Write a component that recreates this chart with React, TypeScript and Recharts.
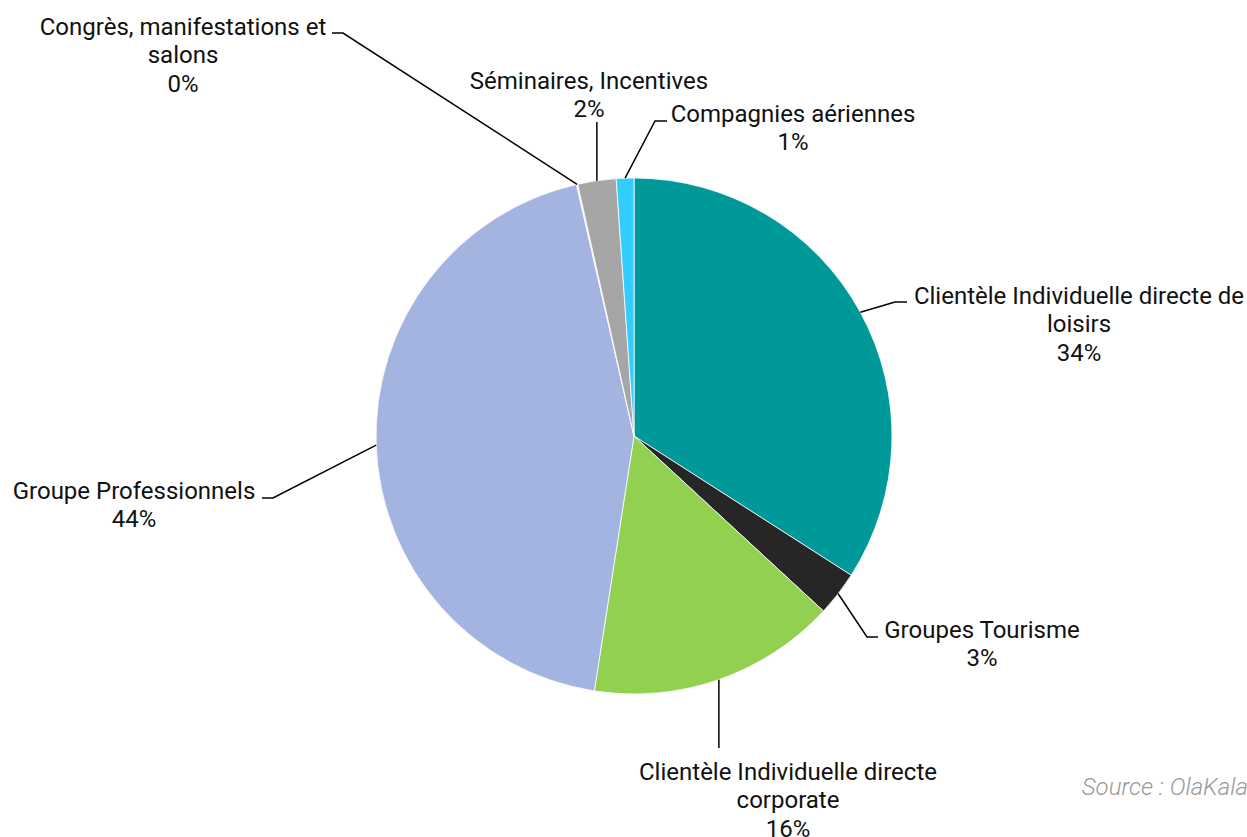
import React from 'react';
import { PieChart, Pie, Cell } from 'recharts';

// Répartition de la clientèle (parts en %)
const segments = [
  'Clientèle Individuelle directe de loisirs',
  'Groupes Tourisme',
  'Clientèle Individuelle directe corporate',
  'Groupe Professionnels',
  'Congrès, manifestations et salons',
  'Séminaires, Incentives',
  'Compagnies aériennes',
];
const shares = [34.1, 2.8, 15.6, 44.0, 0.08, 2.4, 1.1];
const colors = ['#009999', '#262626', '#92D050', '#A4B4E0', '#E8E8E8', '#A6A6A6', '#33CCFF'];

// lignes des étiquettes (retour à la ligne comme dans l'original)
const labelText = [
  ['Clientèle Individuelle directe de', 'loisirs'],
  ['Groupes Tourisme'],
  ['Clientèle Individuelle directe', 'corporate'],
  ['Groupe Professionnels'],
  ['Congrès, manifestations et', 'salons'],
  ['Séminaires, Incentives'],
  ['Compagnies aériennes'],
];

// placement des étiquettes, relatif au centre du camembert
const labelLayout = [
  { elbow: [261, -134], end: [273, -134], tx: 445, ty: -141, vertical: false },
  { elbow: [233, 201], end: [244, 201], tx: 348, ty: 193, vertical: false },
  { elbow: [84, 312], end: [84, 312], tx: 154, ty: 335, vertical: true },
  { elbow: [-361, 62], end: [-372, 62], tx: -500, ty: 54, vertical: false },
  { elbow: [-291, -403], end: [-302, -403], tx: -451, ty: -410, vertical: false },
  { elbow: [-37, -314], end: [-37, -314], tx: -45, ty: -356, vertical: true },
  { elbow: [21, -315], end: [33, -315], tx: 159, ty: -323, vertical: false },
];

const data = segments.map((name, i) => ({ name, value: shares[i] }));

const RAD = Math.PI / 180;
const LINE_H = 28.7;

const renderLabel = (props: any) => {
  const { cx, cy, midAngle, outerRadius, percent, index } = props;
  const lay = labelLayout[index];
  const sx = cx + outerRadius * Math.cos(-midAngle * RAD);
  const sy = cy + outerRadius * Math.sin(-midAngle * RAD);
  const pts = lay.vertical
    ? `${sx},${sy} ${sx},${cy + lay.elbow[1]}`
    : `${sx},${sy} ${cx + lay.elbow[0]},${cy + lay.elbow[1]} ${cx + lay.end[0]},${cy + lay.end[1]}`;
  const lines = [...labelText[index], `${Math.round(percent * 100)}%`];
  return (
    <g key={`lbl-${index}`}>
      <polyline points={pts} fill="none" stroke="#000" strokeWidth={1.5} />
      <text
        x={cx + lay.tx}
        textAnchor="middle"
        fontFamily="Roboto, sans-serif"
        fontSize={24}
        fill="#111"
      >
        {lines.map((l, j) => (
          <tspan key={j} x={cx + lay.tx} y={cy + lay.ty + j * LINE_H + 8.5}>
            {l}
          </tspan>
        ))}
      </text>
    </g>
  );
};

const App = () => {
  return (
    <div style={{ position: 'absolute', left: 0, top: 0, width: 1247, height: 837, background: '#fff', overflow: 'hidden' }}>
      <PieChart width={1247} height={837} margin={{ top: 0, right: 0, bottom: 0, left: 0 }}>
        <Pie
          data={data}
          dataKey="value"
          nameKey="name"
          cx={634}
          cy={436}
          outerRadius={258}
          startAngle={90}
          endAngle={-270}
          stroke="#fff"
          strokeWidth={0.8}
          label={renderLabel}
          labelLine={false}
          isAnimationActive={false}
        >
          {data.map((d, i) => (
            <Cell key={d.name} fill={colors[i]} />
          ))}
        </Pie>
      </PieChart>
      <div
        style={{
          position: 'absolute',
          right: -1,
          top: 773,
          fontFamily: 'Roboto, sans-serif',
          fontWeight: 300,
          fontStyle: 'italic',
          fontSize: 24,
          color: '#999',
          whiteSpace: 'nowrap',
        }}
      >
        Source : OlaKala
      </div>
    </div>
  );
};

export default App;
